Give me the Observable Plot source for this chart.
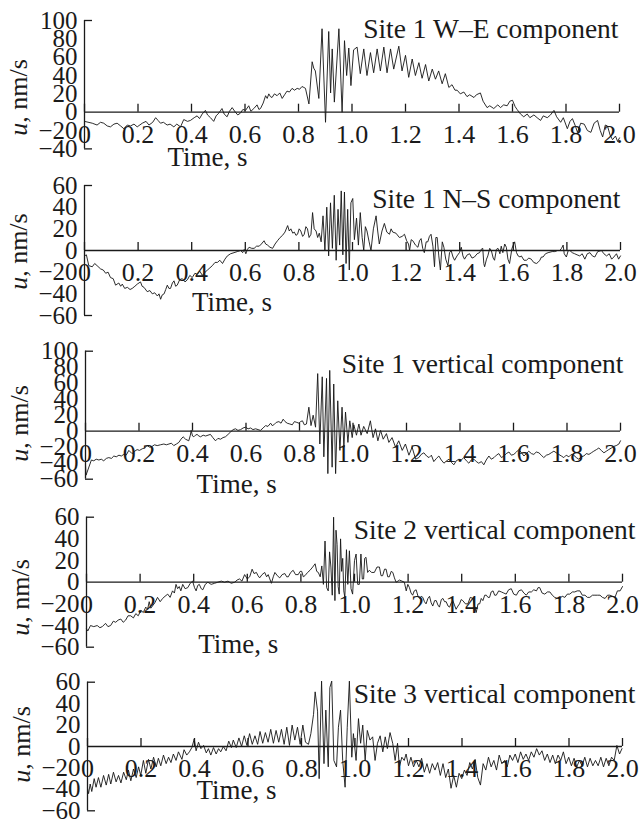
<!DOCTYPE html>
<html>
<head>
<meta charset="utf-8">
<script src="https://cdn.jsdelivr.net/npm/d3@7"></script>
<script src="https://cdn.jsdelivr.net/npm/@observablehq/plot@0.6"></script>
<style>
  html, body { margin: 0; padding: 0; background: #fff; }
  #chart svg { display: block; }
</style>
</head>
<body>
<div id="chart"></div>
<script>
// ---------- data ----------
const xTicks = [0, 0.2, 0.4, 0.6, 0.8, 1.0, 1.2, 1.4, 1.6, 1.8, 2.0];
const xTickLabels = ["0", "0.2", "0.4", "0.6", "0.8", "1.0", "1.2", "1.4", "1.6", "1.8", "2.0"];
const xLabel = "Time, s";
const yLabel = "u, nm/s";
const titles = ["Site 1 W\u2013E component", "Site 1 N\u2013S component", "Site 1 vertical component", "Site 2 vertical component", "Site 3 vertical component"];
const yTicksWE = [100, 80, 60, 40, 20, 0, -20, -40];
const yTicksNS = [60, 40, 20, 0, -20, -40, -60];
const yTicksV1 = [100, 80, 60, 40, 20, 0, -20, -40, -60];
const yTicksV2 = [60, 40, 20, 0, -20, -40, -60];
const yTicksV3 = [60, 40, 20, 0, -20, -40, -60];

const site1WE = [[0,-10],[0.029,-12],[0.047,-14],[0.06,-11],[0.072,-12],[0.085,-15],[0.097,-16],[0.11,-13],[0.122,-12],[0.135,-15],[0.147,-18],[0.16,-14],[0.172,-15],[0.185,-13],[0.197,-16],[0.216,-12],[0.23,-10],[0.241,-14],[0.255,-11],[0.266,-6],[0.275,-9],[0.284,-12],[0.295,-11],[0.309,-14],[0.32,-13],[0.334,-16],[0.345,-13],[0.359,-16],[0.371,-8],[0.385,-10],[0.396,-9],[0.41,-6],[0.421,-4],[0.43,-7],[0.44,-2],[0.452,2],[0.46,-3],[0.471,-6],[0.483,-10],[0.492,-4],[0.502,-1],[0.514,4],[0.522,-2],[0.533,-5],[0.542,1],[0.552,5],[0.564,0],[0.573,-3],[0.583,-1],[0.592,3],[0.602,2],[0.614,7],[0.622,1],[0.633,4],[0.645,8],[0.652,3],[0.658,4],[0.668,10],[0.677,18],[0.683,15],[0.689,20],[0.695,17],[0.701,16],[0.71,20],[0.72,18],[0.73,21],[0.739,15],[0.748,19],[0.757,23],[0.766,22],[0.776,26],[0.785,24],[0.795,26],[0.804,25],[0.813,28],[0.82,27],[0.826,26],[0.839,9],[0.851,55],[0.857,48],[0.863,45],[0.876,15],[0.888,91],[0.901,-11],[0.913,88],[0.92,21],[0.926,69],[0.934,11],[0.951,91],[0.963,0],[0.972,78],[0.98,40],[0.988,70],[0.996,29],[1.006,68],[1.019,71],[1.031,42],[1.044,69],[1.056,40],[1.069,65],[1.081,43],[1.094,69],[1.106,45],[1.119,71],[1.131,43],[1.144,69],[1.156,47],[1.175,72],[1.187,45],[1.2,62],[1.212,38],[1.225,58],[1.237,40],[1.25,54],[1.262,37],[1.275,52],[1.287,34],[1.3,47],[1.312,36],[1.324,45],[1.337,31],[1.349,42],[1.362,27],[1.374,30],[1.385,24],[1.393,24],[1.405,20],[1.418,22],[1.43,17],[1.44,19],[1.456,16],[1.465,19],[1.48,21],[1.49,12],[1.505,5],[1.515,7],[1.53,4],[1.545,8],[1.555,5],[1.567,8],[1.58,7],[1.59,12],[1.6,13],[1.61,6],[1.617,3],[1.63,-2],[1.642,-5],[1.655,-2],[1.665,-6],[1.68,-3],[1.692,-6],[1.705,-9],[1.715,-4],[1.73,-6],[1.742,-3],[1.755,2],[1.765,-5],[1.78,-11],[1.79,-6],[1.805,-18],[1.815,-10],[1.824,-7],[1.835,-15],[1.843,-22],[1.855,-12],[1.868,-13],[1.88,-20],[1.893,-22],[1.905,-12],[1.918,-9],[1.928,-20],[1.937,-27],[1.947,-14],[1.955,-15],[1.965,-25],[1.974,-30],[1.985,-26],[1.993,-32],[2.0,-28]];

const site1NS = [[0,-5],[0.007,-4],[0.016,-14],[0.029,-15],[0.038,-12],[0.047,-14],[0.06,-17],[0.07,-18],[0.079,-21],[0.088,-20],[0.097,-25],[0.107,-26],[0.116,-32],[0.128,-30],[0.135,-33],[0.141,-31],[0.15,-35],[0.16,-34],[0.17,-36],[0.178,-35],[0.188,-33],[0.197,-31],[0.209,-29],[0.215,-33],[0.222,-34],[0.234,-38],[0.244,-37],[0.253,-40],[0.262,-39],[0.272,-42],[0.278,-40],[0.284,-45],[0.29,-41],[0.297,-40],[0.303,-36],[0.309,-32],[0.315,-35],[0.321,-35],[0.328,-30],[0.334,-28],[0.34,-33],[0.346,-32],[0.355,-27],[0.365,-26],[0.375,-29],[0.384,-27],[0.393,-23],[0.402,-25],[0.412,-21],[0.421,-22],[0.43,-19],[0.44,-23],[0.45,-20],[0.459,-18],[0.468,-16],[0.477,-14],[0.487,-11],[0.496,-11],[0.505,-9],[0.515,-12],[0.524,-8],[0.533,-5],[0.545,-3],[0.558,-2],[0.57,-1],[0.583,0],[0.59,-2],[0.596,1],[0.602,-3],[0.608,1],[0.614,3],[0.624,2],[0.633,2],[0.642,4],[0.652,4],[0.66,6],[0.67,9],[0.676,6],[0.683,5],[0.692,3],[0.702,2],[0.711,6],[0.72,9],[0.73,12],[0.739,14],[0.748,17],[0.758,23],[0.764,18],[0.77,20],[0.777,16],[0.783,17],[0.789,14],[0.795,15],[0.801,20],[0.807,18],[0.814,13],[0.82,15],[0.826,22],[0.832,20],[0.838,12],[0.845,15],[0.851,35],[0.857,20],[0.864,18],[0.87,12],[0.876,16],[0.883,8],[0.89,32],[0.897,0],[0.904,40],[0.911,-5],[0.918,44],[0.925,2],[0.932,51],[0.939,-9],[0.946,38],[0.952,5],[0.958,55],[0.964,-4],[0.97,54],[0.976,-12],[0.982,38],[0.988,-18],[0.994,44],[1.001,48],[1.007,10],[1.015,30],[1.022,5],[1.029,35],[1.036,12],[1.042,0],[1.048,22],[1.054,18],[1.062,8],[1.069,0],[1.078,20],[1.088,32],[1.094,18],[1.1,6],[1.11,18],[1.119,25],[1.128,17],[1.138,15],[1.144,20],[1.15,17],[1.162,16],[1.175,12],[1.185,13],[1.194,15],[1.202,9],[1.209,6],[1.213,0],[1.219,10],[1.225,9],[1.235,5],[1.244,3],[1.25,9],[1.256,11],[1.262,2],[1.268,-2],[1.275,8],[1.281,8],[1.287,13],[1.293,15],[1.3,4],[1.306,-15],[1.311,12],[1.316,12],[1.322,-5],[1.328,-18],[1.335,8],[1.341,3],[1.348,-8],[1.356,-14],[1.362,-2],[1.368,0],[1.375,-6],[1.381,-9],[1.39,-5],[1.399,-2],[1.406,3],[1.412,-5],[1.418,-8],[1.428,-4],[1.437,-3],[1.446,-7],[1.455,-6],[1.465,-3],[1.474,-2],[1.48,1],[1.486,2],[1.49,-12],[1.493,-15],[1.5,-8],[1.505,-5],[1.512,2],[1.518,0],[1.525,-7],[1.53,-9],[1.537,1],[1.543,2],[1.55,-3],[1.555,4],[1.561,-2],[1.568,6],[1.574,3],[1.58,-8],[1.586,-12],[1.595,2],[1.605,8],[1.612,-2],[1.618,-5],[1.625,-6],[1.63,-5],[1.64,-9],[1.649,-9],[1.658,-7],[1.667,-8],[1.676,-11],[1.686,-12],[1.692,-11],[1.699,-9],[1.705,-6],[1.711,-6],[1.72,-3],[1.73,-2],[1.745,-1],[1.755,-1],[1.765,0],[1.773,0],[1.78,2],[1.786,5],[1.79,-3],[1.798,-6],[1.805,0],[1.811,0],[1.82,-2],[1.829,-3],[1.838,-4],[1.848,-5],[1.857,-3],[1.867,-8],[1.876,-3],[1.886,-2],[1.895,-5],[1.904,-6],[1.915,-1],[1.929,0],[1.938,-3],[1.948,-5],[1.958,-3],[1.967,-8],[1.975,-6],[1.985,-3],[1.993,-8],[2.0,-5]];

const site1V = [[0,-42],[0.002,-55],[0.022,-36],[0.031,-37],[0.04,-35],[0.05,-36],[0.059,-35],[0.068,-37],[0.078,-34],[0.087,-33],[0.097,-34],[0.106,-31],[0.115,-32],[0.125,-30],[0.134,-31],[0.143,-29],[0.152,-30],[0.162,-24],[0.168,-26],[0.174,-28],[0.184,-25],[0.193,-23],[0.202,-24],[0.212,-22],[0.221,-21],[0.23,-18],[0.24,-20],[0.249,-19],[0.258,-17],[0.268,-18],[0.28,-17],[0.293,-16],[0.302,-17],[0.312,-16],[0.321,-15],[0.33,-18],[0.34,-16],[0.349,-14],[0.357,-10],[0.365,-7],[0.374,-10],[0.386,-12],[0.392,-5],[0.395,1],[0.4,-6],[0.405,-7],[0.411,-5],[0.417,-4],[0.424,-6],[0.43,-7],[0.44,-5],[0.449,-6],[0.458,-5],[0.467,-4],[0.476,-8],[0.486,-12],[0.495,-9],[0.505,-10],[0.514,-8],[0.523,-7],[0.533,-4],[0.542,-1],[0.552,2],[0.561,3],[0.57,1],[0.58,2],[0.589,4],[0.598,5],[0.608,3],[0.617,4],[0.626,2],[0.636,3],[0.645,2],[0.654,1],[0.664,4],[0.673,7],[0.682,6],[0.692,10],[0.698,7],[0.704,8],[0.713,11],[0.723,12],[0.731,10],[0.739,15],[0.746,12],[0.754,10],[0.764,9],[0.773,8],[0.781,12],[0.79,11],[0.798,10],[0.804,12],[0.811,13],[0.818,8],[0.826,9],[0.835,30],[0.843,7],[0.851,20],[0.86,5],[0.868,72],[0.876,-16],[0.885,68],[0.891,-32],[0.901,66],[0.906,-53],[0.913,76],[0.922,-45],[0.928,59],[0.935,-53],[0.943,38],[0.951,-24],[0.959,30],[0.966,-20],[0.972,24],[0.981,-14],[0.988,13],[0.997,-8],[1.003,8],[1.013,-5],[1.022,9],[1.03,-5],[1.04,6],[1.053,-3],[1.065,13],[1.075,-8],[1.084,3],[1.093,-12],[1.103,1],[1.113,-10],[1.125,-3],[1.134,-14],[1.146,-8],[1.159,-20],[1.171,-12],[1.184,-24],[1.196,-16],[1.209,-30],[1.221,-20],[1.234,-35],[1.246,-33],[1.255,-29],[1.265,-27],[1.275,-31],[1.284,-33],[1.293,-30],[1.302,-38],[1.312,-34],[1.321,-31],[1.33,-36],[1.34,-40],[1.35,-37],[1.359,-35],[1.368,-39],[1.377,-42],[1.386,-37],[1.396,-35],[1.405,-36],[1.414,-33],[1.424,-37],[1.433,-40],[1.442,-36],[1.452,-35],[1.461,-38],[1.47,-40],[1.48,-38],[1.489,-42],[1.498,-36],[1.508,-31],[1.517,-35],[1.527,-33],[1.536,-30],[1.545,-28],[1.555,-33],[1.564,-31],[1.573,-28],[1.583,-26],[1.592,-30],[1.601,-29],[1.611,-26],[1.62,-23],[1.63,-27],[1.639,-31],[1.648,-28],[1.657,-25],[1.667,-28],[1.676,-29],[1.685,-26],[1.695,-27],[1.704,-30],[1.713,-33],[1.723,-30],[1.732,-29],[1.741,-27],[1.751,-25],[1.76,-27],[1.769,-29],[1.779,-31],[1.788,-33],[1.797,-30],[1.807,-32],[1.816,-29],[1.825,-30],[1.835,-33],[1.844,-35],[1.853,-32],[1.863,-31],[1.872,-28],[1.882,-29],[1.891,-27],[1.9,-25],[1.91,-23],[1.919,-21],[1.928,-24],[1.938,-27],[1.947,-25],[1.956,-23],[1.966,-21],[1.975,-19],[1.984,-18],[1.994,-16],[2.0,-12]];

const site2V = [[0,-43],[0.005,-45],[0.015,-40],[0.027,-41],[0.04,-40],[0.05,-42],[0.059,-41],[0.071,-38],[0.08,-41],[0.09,-40],[0.1,-36],[0.109,-37],[0.118,-35],[0.128,-34],[0.137,-37],[0.146,-35],[0.155,-31],[0.165,-31],[0.175,-33],[0.184,-29],[0.193,-31],[0.203,-26],[0.212,-28],[0.221,-23],[0.228,-25],[0.234,-18],[0.24,-24],[0.246,-22],[0.255,-19],[0.265,-14],[0.275,-18],[0.284,-15],[0.293,-13],[0.303,-11],[0.312,-14],[0.321,-8],[0.328,-10],[0.334,-2],[0.34,-6],[0.346,-4],[0.352,-8],[0.359,-2],[0.368,-6],[0.378,-5],[0.387,-1],[0.396,1],[0.403,-5],[0.409,-8],[0.415,-3],[0.421,-2],[0.428,-6],[0.434,-7],[0.443,-2],[0.453,0],[0.465,-2],[0.478,-1],[0.49,0],[0.503,1],[0.515,0],[0.528,1],[0.54,-1],[0.553,0],[0.562,2],[0.571,3],[0.58,1],[0.59,7],[0.6,3],[0.609,5],[0.618,12],[0.625,8],[0.634,9],[0.64,6],[0.646,4],[0.655,7],[0.665,9],[0.672,5],[0.678,7],[0.684,3],[0.69,-1],[0.697,5],[0.703,9],[0.712,6],[0.721,4],[0.73,7],[0.74,8],[0.747,5],[0.753,5],[0.762,9],[0.771,11],[0.78,7],[0.79,7],[0.797,10],[0.803,10],[0.809,5],[0.815,6],[0.825,9],[0.834,11],[0.844,14],[0.853,17],[0.859,10],[0.865,9],[0.872,5],[0.878,15],[0.884,-2],[0.89,38],[0.896,-5],[0.902,-8],[0.907,28],[0.912,14],[0.917,-12],[0.922,60],[0.927,-17],[0.931,48],[0.935,35],[0.939,-4],[0.943,-11],[0.948,40],[0.952,10],[0.956,22],[0.96,-8],[0.964,-14],[0.97,30],[0.975,-2],[0.981,29],[0.987,-6],[0.993,-11],[1.0,20],[1.006,26],[1.012,-2],[1.018,-2],[1.024,26],[1.029,3],[1.034,3],[1.038,22],[1.043,23],[1.049,9],[1.055,11],[1.064,9],[1.074,9],[1.084,14],[1.093,14],[1.099,6],[1.105,6],[1.112,12],[1.118,12],[1.124,5],[1.13,5],[1.137,10],[1.143,9],[1.149,4],[1.155,0],[1.162,1],[1.168,2],[1.177,1],[1.186,0],[1.193,-8],[1.199,-2],[1.205,-5],[1.211,-10],[1.217,-12],[1.223,-8],[1.23,-7],[1.237,-13],[1.243,-15],[1.249,-13],[1.255,-14],[1.261,-18],[1.267,-20],[1.274,-15],[1.28,-13],[1.286,-19],[1.292,-22],[1.299,-17],[1.305,-17],[1.311,-21],[1.317,-23],[1.324,-16],[1.33,-15],[1.336,-18],[1.342,-18],[1.349,-22],[1.355,-23],[1.361,-19],[1.367,-17],[1.373,-21],[1.379,-25],[1.386,-22],[1.392,-20],[1.398,-16],[1.404,-17],[1.414,-20],[1.423,-20],[1.432,-14],[1.442,-15],[1.448,-22],[1.454,-28],[1.461,-20],[1.467,-20],[1.473,-15],[1.479,-17],[1.486,-12],[1.492,-12],[1.498,-14],[1.504,-14],[1.51,-9],[1.517,-8],[1.523,-12],[1.529,-12],[1.538,-8],[1.548,-9],[1.557,-10],[1.566,-11],[1.575,-7],[1.585,-6],[1.594,-11],[1.604,-12],[1.613,-8],[1.623,-7],[1.632,-10],[1.641,-12],[1.65,-9],[1.66,-9],[1.669,-7],[1.679,-8],[1.685,-5],[1.691,-5],[1.7,-10],[1.71,-11],[1.72,-9],[1.729,-9],[1.738,-12],[1.747,-14],[1.757,-15],[1.766,-15],[1.775,-13],[1.785,-14],[1.794,-11],[1.803,-11],[1.813,-9],[1.822,-9],[1.831,-8],[1.841,-8],[1.85,-12],[1.86,-12],[1.869,-14],[1.878,-14],[1.888,-12],[1.897,-12],[1.906,-12],[1.916,-12],[1.925,-14],[1.935,-15],[1.944,-12],[1.953,-12],[1.963,-13],[1.972,-14],[1.981,-8],[1.991,-8],[2.0,-4]];

const site3V = [[0,-39],[0.004,-44],[0.01,-35],[0.016,-42],[0.025,-30],[0.032,-38],[0.041,-29],[0.05,-38],[0.06,-27],[0.07,-36],[0.079,-26],[0.087,-35],[0.097,-24],[0.107,-33],[0.116,-27],[0.125,-34],[0.135,-24],[0.145,-31],[0.153,-22],[0.162,-32],[0.172,-21],[0.182,-29],[0.191,-19],[0.199,-27],[0.209,-13],[0.218,-25],[0.228,-12],[0.237,-21],[0.247,-10],[0.257,-19],[0.265,-11],[0.274,-18],[0.284,-8],[0.294,-16],[0.303,-10],[0.312,-15],[0.321,-7],[0.331,-13],[0.34,-5],[0.353,-12],[0.361,-3],[0.371,-8],[0.381,-5],[0.39,-1],[0.399,7],[0.406,-4],[0.415,4],[0.424,-2],[0.434,1],[0.444,-6],[0.452,-2],[0.461,-8],[0.471,-1],[0.481,-7],[0.49,-2],[0.498,-5],[0.508,0],[0.518,-4],[0.528,5],[0.538,-1],[0.545,6],[0.556,-1],[0.566,8],[0.576,0],[0.586,10],[0.596,1],[0.606,12],[0.616,2],[0.626,10],[0.636,2],[0.645,14],[0.655,3],[0.665,13],[0.675,4],[0.685,16],[0.695,3],[0.705,15],[0.715,4],[0.725,16],[0.735,2],[0.745,18],[0.755,1],[0.765,20],[0.775,6],[0.785,18],[0.795,2],[0.805,20],[0.815,4],[0.826,2],[0.835,12],[0.845,30],[0.851,51],[0.86,33],[0.866,-30],[0.875,61],[0.884,-16],[0.891,34],[0.9,-19],[0.906,55],[0.913,61],[0.921,-13],[0.931,-19],[0.938,18],[0.946,34],[0.954,-13],[0.963,-38],[0.971,18],[0.979,61],[0.988,-10],[0.994,12],[1.004,-13],[1.013,26],[1.021,3],[1.029,20],[1.038,-13],[1.046,15],[1.056,6],[1.066,9],[1.075,-13],[1.084,3],[1.094,10],[1.104,-5],[1.113,9],[1.121,-2],[1.131,13],[1.141,3],[1.15,-13],[1.159,3],[1.166,-19],[1.175,-10],[1.184,-13],[1.191,-7],[1.2,-18],[1.209,-10],[1.219,-19],[1.229,-13],[1.239,-19],[1.249,-11],[1.259,-24],[1.269,-16],[1.279,-25],[1.289,-16],[1.299,-22],[1.309,-15],[1.319,-27],[1.329,-16],[1.339,-29],[1.349,-21],[1.359,-39],[1.369,-27],[1.379,-38],[1.389,-25],[1.399,-30],[1.409,-22],[1.419,-27],[1.429,-15],[1.439,-21],[1.449,-12],[1.459,-29],[1.469,-36],[1.479,-16],[1.489,-22],[1.499,-10],[1.509,-19],[1.519,-13],[1.529,-22],[1.539,-8],[1.549,-16],[1.559,-13],[1.569,-19],[1.579,-8],[1.589,-13],[1.599,-7],[1.609,-15],[1.619,-5],[1.629,-12],[1.639,-7],[1.649,-13],[1.659,-5],[1.669,-10],[1.679,-2],[1.689,-8],[1.699,-4],[1.709,-13],[1.719,-7],[1.729,-15],[1.739,-8],[1.749,-16],[1.759,-8],[1.769,-13],[1.779,-5],[1.789,-16],[1.799,-10],[1.809,-18],[1.819,-11],[1.829,-19],[1.839,-13],[1.849,-18],[1.859,-10],[1.869,-19],[1.879,-11],[1.889,-18],[1.899,-13],[1.909,-18],[1.919,-10],[1.929,-19],[1.939,-11],[1.949,-18],[1.959,-10],[1.969,-13],[1.979,1],[1.989,-7],[1.998,-2]];

// ---------- layout (positions/styles kept separate from the data) ----------
const layout = [
  {data: site1WE, yTicks: yTicksWE, height: 170, mt: 20,   mb: 58.3, ml: 84, mr: 22, titleDx: -1, titleDy: 17,   timeX: 0.46,  timeDy: 54, labelY: 16},
  {data: site1NS, yTicks: yTicksNS, height: 160, mt: 15,   mb: 80,   ml: 84, mr: 21, titleDx: 0,  titleDy: 22,   timeX: 0.55,  timeDy: 60, labelY: -1},
  {data: site1V,  yTicks: yTicksV1, height: 170, mt: 20.7, mb: 69.3, ml: 85, mr: 21, titleDx: 3,  titleDy: 21.3, timeX: 0.565, timeDy: 62, labelY: 9.6},
  {data: site2V,  yTicks: yTicksV2, height: 160, mt: 16.7, mb: 78.3, ml: 86, mr: 19, titleDx: 13, titleDy: 21.3, timeX: 0.566, timeDy: 71, labelY: -14},
  {data: site3V,  yTicks: yTicksV3, height: 159, mt: 21.7, mb: 73,   ml: 87, mr: 19, titleDx: 13, titleDy: 20.3, timeX: 0.557, timeDy: 52, labelY: 2}
];

const ink = "#1a1a1a";
const fmtX = d => xTickLabels[xTicks.findIndex(t => Math.abs(t - d) < 1e-9)];
const fmtY = d => d < 0 ? "\u2212" + Math.abs(d) : String(d);
const xExt = d3.extent(xTicks);
const container = document.getElementById("chart");

layout.forEach((p, i) => {
  const [yMin, yMax] = d3.extent(p.yTicks);
  const svg = Plot.plot({
    width: 641,
    height: p.height,
    marginTop: p.mt,
    marginBottom: p.mb,
    marginLeft: p.ml,
    marginRight: p.mr,
    style: {fontFamily: "'Liberation Serif', 'Times New Roman', serif", fontSize: "26px", color: ink, background: "transparent", overflow: "visible"},
    x: {domain: xExt},
    y: {domain: [0, yMax]},
    marks: [
      Plot.line(p.data, {x: d => d[0], y: d => d[1], stroke: "#151515", strokeWidth: 0.9}),
      Plot.ruleY([0], {x1: xExt[0], x2: xExt[1], stroke: ink, strokeWidth: 1.3}),
      Plot.axisX(xTicks, {anchor: "bottom", tickSize: 8, dy: -8, tickFormat: () => "", label: null, strokeWidth: 1.3}),
      Plot.axisX(xTicks, {anchor: "bottom", tickSize: 0, tickPadding: 12, tickFormat: fmtX, label: null}),
      Plot.ruleX([xExt[0]], {y1: yMin, y2: yMax, stroke: ink, strokeWidth: 1.3}),
      Plot.ruleY([yMin, yMax], {x1: xExt[0], x2: xExt[0] + 0.03, stroke: ink, strokeWidth: 1.3}),
      Plot.axisY(p.yTicks, {anchor: "left", tickSize: 0, tickPadding: 7, tickFormat: fmtY, label: null, fontSize: 25}),
      Plot.text([titles[i]], {frameAnchor: "top-right", textAnchor: "end", lineAnchor: "bottom", dx: p.titleDx, dy: p.titleDy, fill: ink, fontSize: 27.5}),
      Plot.text([xLabel], {x: [p.timeX], frameAnchor: "bottom", lineAnchor: "bottom", dy: p.timeDy, fill: ink, fontSize: 27}),
      Plot.text([yLabel], {y: [p.labelY], frameAnchor: "left", rotate: -90, dx: -66, textAnchor: "middle", fill: ink, fontSize: 26})
    ]
  });
  // italic "u" in the axis label
  svg.querySelectorAll("text").forEach(t => {
    if (t.textContent === yLabel) {
      t.textContent = "";
      const it = document.createElementNS("http://www.w3.org/2000/svg", "tspan");
      it.setAttribute("font-style", "italic");
      it.textContent = "u";
      t.appendChild(it);
      t.appendChild(document.createTextNode(", nm/s"));
    }
  });
  container.appendChild(svg);
});
</script>
</body>
</html>
